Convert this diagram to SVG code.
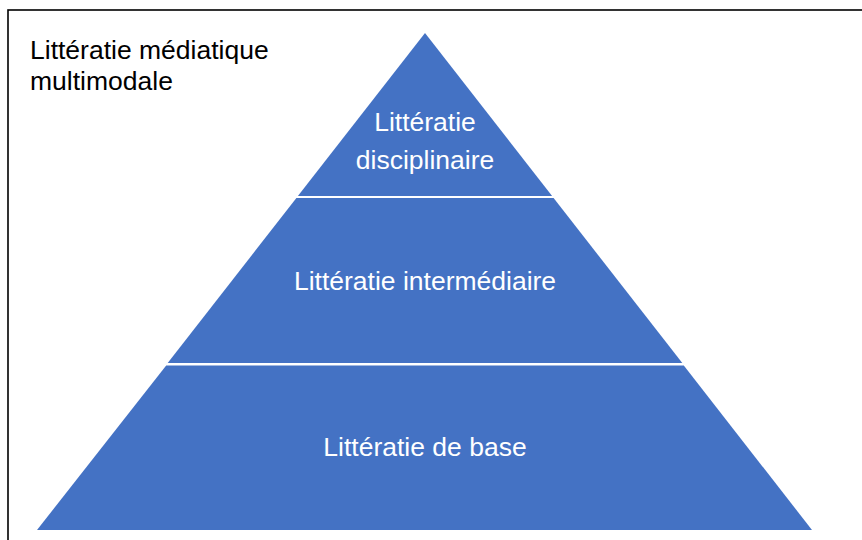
<svg xmlns="http://www.w3.org/2000/svg" width="862" height="540" viewBox="0 0 862 540">
<style>
.tier{fill:#4472C4;}
.lbl{font-family:"Liberation Sans",Arial,sans-serif;font-size:26.5px;fill:#ffffff;text-anchor:middle;}
.title{font-family:"Liberation Sans",Arial,sans-serif;font-size:26.5px;fill:#000000;}
</style>
<rect x="0" y="0" width="862" height="540" fill="#ffffff"/>
<rect x="8" y="10" width="880" height="560" fill="none" stroke="#000000" stroke-width="1.6"/>
<g id="title">
<text class="title" x="30" y="59">Littératie médiatique</text>
<text class="title" x="30" y="90">multimodale</text>
</g>
<g id="tier-top">
<polygon class="tier" points="425,33 552.1,196 297.9,196"/>
<text class="lbl" x="425" y="131">Littératie</text>
<text class="lbl" x="425" y="169">disciplinaire</text>
</g>
<g id="tier-middle">
<polygon class="tier" points="296.4,198 553.6,198 682.3,363 167.7,363"/>
<text class="lbl" x="425" y="290">Littératie intermédiaire</text>
</g>
<g id="tier-bottom">
<polygon class="tier" points="166.2,365.5 683.8,365.5 812,530 37,530"/>
<text class="lbl" x="425" y="456">Littératie de base</text>
</g>
<g id="connectors"></g>
</svg>
